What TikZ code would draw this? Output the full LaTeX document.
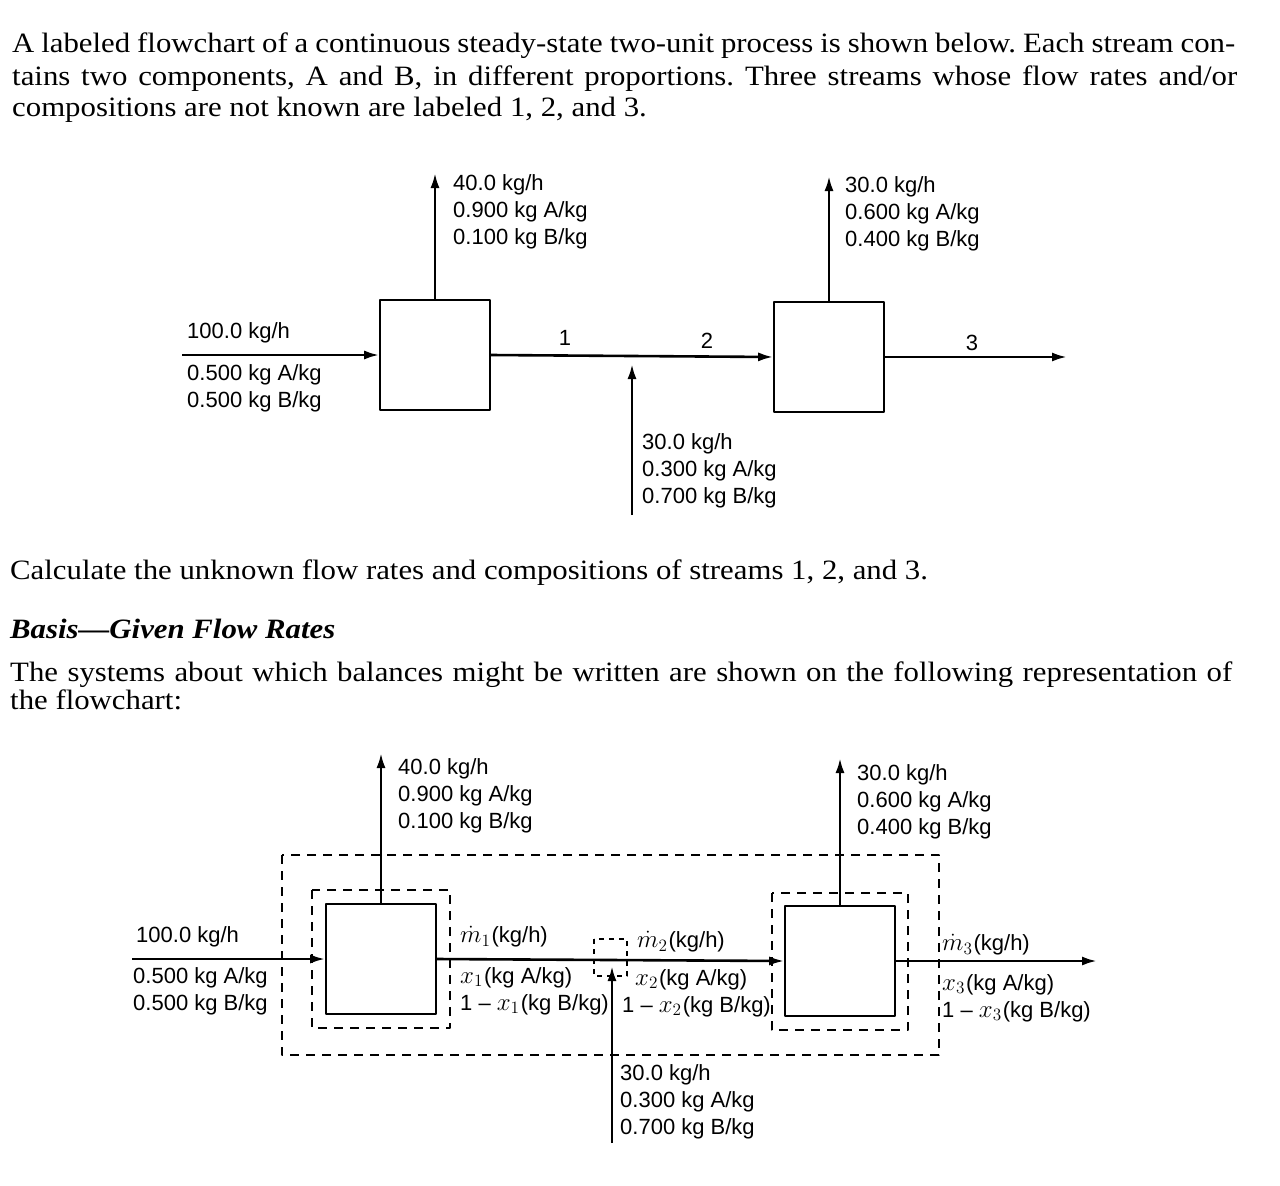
\documentclass[tikz,border=0pt]{standalone}
\usepackage{graphicx}
\usepackage{fontspec}
\setmainfont{Liberation Serif}[FakeStretch=1.1]
\setsansfont{Liberation Sans}
\usetikzlibrary{arrows.meta}
\newcommand\ivar[1]{\scalebox{1.2}{$#1$}\kern1pt}
\tikzset{
	unit/.style={draw,line width=1.6pt,minimum size=110pt,inner sep=0pt},
	flow/.style={line width=2.6pt,->},
	envelope/.style={line width=1.5pt,dash pattern=on 9pt off 7pt},
	lab/.style={font=\sffamily\fontsize{22}{27}\selectfont,align=left,anchor=north west,inner sep=0pt},
	para/.style={font=\fontsize{28}{32}\selectfont,anchor=base west,inner sep=0pt}
}
\frenchspacing
\begin{document}
\begin{tikzpicture}[>={Latex[length=15pt,width=9pt]},line join=round,x=1pt,y=-1pt]
		\useasboundingbox (0,0) rectangle (1280,1186);
		% text
		\node[para] (t1) at (12,52) {\makebox[1223pt][s]{A labeled flowchart of a continuous steady-state two-unit process is shown below. Each stream con-}};
		\node[para] (t2) at (12,85) {\makebox[1225pt][s]{tains two components, A and B, in different proportions. Three streams whose flow rates and/or}};
		\node[para] (t3) at (12,116) {compositions are not known are labeled 1, 2, and 3.};
		\node[para] (t4) at (10,579) {Calculate the unknown flow rates and compositions of streams 1, 2, and 3.};
		\node[para] (t5) at (10,638) {\textbf{\textit{Basis---Given Flow Rates}}};
		\node[para] (t6) at (10,681) {\makebox[1222pt][s]{The systems about which balances might be written are shown on the following representation of}};
		\node[para] (t7) at (10,709) {the flowchart:};
		% first flowchart
		\node[unit] (a1) at (435,355) {};
		\node[unit] (a2) at (829,357) {};
		\coordinate (a0) at (182,355);
		\coordinate (a3) at (1067,357);
		\coordinate (a1t) at (435,173);
		\coordinate (a2t) at (829,176);
		\coordinate (am) at (632,515);
		\coordinate (amt) at (632,364);
		\draw[flow] (a0) -- (a1);
		\draw[flow] (a1.east) -- (a2.west);
		\draw[flow] (a2) -- (a3);
		\draw[flow] (a1) -- (a1t);
		\draw[flow] (a2) -- (a2t);
		\draw[flow] (am) -- (amt);
		\node[lab] (a1l) at (453,174) {40.0 kg/h\\0.900 kg A/kg\\0.100 kg B/kg};
		\node[lab] (a2l) at (845,176) {30.0 kg/h\\0.600 kg A/kg\\0.400 kg B/kg};
		\node[lab] (a0r) at (187,322) {100.0 kg/h};
		\node[lab] (a0x) at (187,364) {0.500 kg A/kg\\0.500 kg B/kg};
		\node[lab] (aml) at (642,433) {30.0 kg/h\\0.300 kg A/kg\\0.700 kg B/kg};
		\node[lab,anchor=center] (n1) at (565,338) {1};
		\node[lab,anchor=center] (n2) at (707,341) {2};
		\node[lab,anchor=center] (n3) at (972,343) {3};
		% second flowchart with balance envelopes
		\node[unit] (b1) at (381,959) {};
		\node[unit] (b2) at (840,961) {};
		\draw[envelope] (282,855) rectangle (939,1055);
		\draw[envelope] (312,890) rectangle (450,1028);
		\draw[envelope] (772,893) rectangle (908,1030);
		\draw[line width=1.3pt,dash pattern=on 5pt off 5pt] (594,939) rectangle (627,976);
		\coordinate (b0) at (132,959);
		\coordinate (b3) at (1097,961);
		\coordinate (b1t) at (381,753);
		\coordinate (b2t) at (840,758);
		\coordinate (bm) at (612,1143);
		\coordinate (bmt) at (612,966);
		\draw[flow] (b0) -- (b1);
		\draw[flow] (b1.east) -- (b2.west);
		\draw[flow] (b2) -- (b3);
		\draw[flow] (b1) -- (b1t);
		\draw[flow] (b2) -- (b2t);
		\draw[flow] (bm) -- (bmt);
		\node[lab] (b1l) at (398,758) {40.0 kg/h\\0.900 kg A/kg\\0.100 kg B/kg};
		\node[lab] (b2l) at (857,764) {30.0 kg/h\\0.600 kg A/kg\\0.400 kg B/kg};
		\node[lab] (b0r) at (136,926) {100.0 kg/h};
		\node[lab] (b0x) at (133,967) {0.500 kg A/kg\\0.500 kg B/kg};
		\node[lab] (bml) at (620,1064) {30.0 kg/h\\0.300 kg A/kg\\0.700 kg B/kg};
		\node[lab] (s1r) at (460,926) {\ivar{\dot{m}_1}(kg/h)};
		\node[lab] (s1x) at (460,967) {\ivar{x_1}(kg A/kg)\\1 -- \ivar{x_1}(kg B/kg)};
		\node[lab] (s2r) at (637,931) {\ivar{\dot{m}_2}(kg/h)};
		\node[lab] (s2x) at (622,969) {\hspace*{13pt}\ivar{x_2}(kg A/kg)\\1 -- \ivar{x_2}(kg B/kg)};
		\node[lab] (s3r) at (942,934) {\ivar{\dot{m}_3}(kg/h)};
		\node[lab] (s3x) at (942,974) {\ivar{x_3}(kg A/kg)\\1 -- \ivar{x_3}(kg B/kg)};
\end{tikzpicture}
\end{document}
